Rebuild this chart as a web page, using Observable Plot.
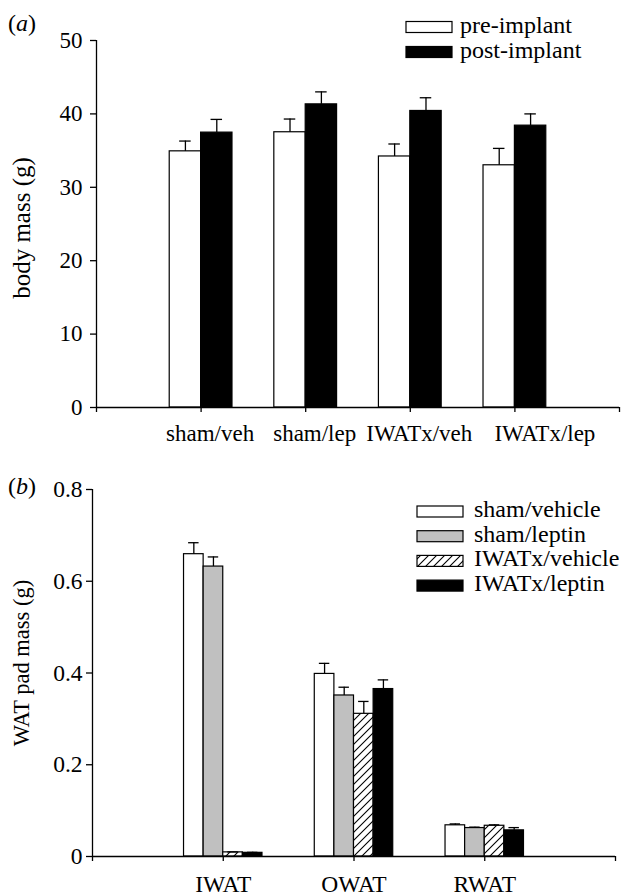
<!DOCTYPE html>
<html><head><meta charset="utf-8">
<script src="https://cdn.jsdelivr.net/npm/d3@7"></script>
<script src="https://cdn.jsdelivr.net/npm/@observablehq/plot@0.6"></script>
<style>
body{margin:0;background:#fff;font-family:"Liberation Serif","Times New Roman",serif;}
#wrap{position:relative;width:630px;height:896px;background:#fff;}
#wrap > svg{position:absolute;left:0;}
</style></head>
<body><div id="wrap"></div>
<script>
// ---- Panel (a): body mass ----
const groupsA = ["sham/veh", "sham/lep", "IWATx/veh", "IWATx/lep"];
const seriesA = ["pre-implant", "post-implant"];
const preMass = [34.9, 37.5, 34.2, 33.0];
const preErr = [1.4, 1.8, 1.7, 2.3];
const postMass = [37.45, 41.3, 40.4, 38.4];
const postErr = [1.8, 1.7, 1.8, 1.6];
const yTicksA = [0, 10, 20, 30, 40, 50];

// ---- Panel (b): WAT pad mass ----
const depots = ["IWAT", "OWAT", "RWAT"];
const seriesB = ["sham/vehicle", "sham/leptin", "IWATx/vehicle", "IWATx/leptin"];
const shamVeh = [0.659, 0.398, 0.068];
const shamVehErr = [0.025, 0.023, 0.003];
const shamLep = [0.632, 0.351, 0.062];
const shamLepErr = [0.021, 0.018, 0.002];
const iwatxVeh = [0.009, 0.311, 0.067];
const iwatxVehErr = [0.001, 0.027, 0.002];
const iwatxLep = [0.008, 0.365, 0.057];
const iwatxLepErr = [0.001, 0.020, 0.006];
const yTicksB = [0, 0.2, 0.4, 0.6, 0.8];

function rowsFrom(groups, vals, errs) {
  const rows = [];
  groups.forEach((g, gi) => vals.forEach((v, si) =>
    rows.push({group: g, gi, si, value: v[gi], err: errs[si][gi]})));
  return rows;
}

const FONT = '"Liberation Serif", "Times New Roman", serif';
const wrap = document.getElementById("wrap");

// overlay svg (pattern defs, panel letters, legends)
const overlay = d3.create("svg").attr("width", 630).attr("height", 896)
  .style("top", "0px").style("pointer-events", "none").style("z-index", 2)
  .attr("font-family", FONT).attr("font-size", 24);
const pat = overlay.append("defs").append("pattern").attr("id", "hatch")
  .attr("patternUnits", "userSpaceOnUse").attr("width", 8).attr("height", 8);
pat.append("rect").attr("width", 8).attr("height", 8).attr("fill", "white");
pat.append("path").attr("d", "M-2,2 L2,-2 M0,8 L8,0 M6,10 L10,6")
  .attr("stroke", "black").attr("stroke-width", 1.1);

// Panel a
const rowsA = rowsFrom(groupsA, [preMass, postMass], [preErr, postErr]);
const fillsA = ["white", "black"];
const wA = 0.3, capA = 0.055;
const xA1 = d => d.gi + 1 + (d.si - seriesA.length / 2) * wA;
const cA = d => xA1(d) + wA / 2;
const nA = groupsA.length;

const plotA = Plot.plot({
  width: 630, height: 450,
  marginLeft: 96, marginRight: 11, marginTop: 40, marginBottom: 43,
  style: {fontFamily: FONT, fontSize: "23px", color: "black", background: "transparent", overflow: "visible"},
  x: {type: "linear", domain: [0, nA + 1]},
  y: {domain: [0, 50]},
  marks: [
    Plot.rect(rowsA, {x1: xA1, x2: d => xA1(d) + wA, y1: () => 0, y2: "value",
      fill: d => fillsA[d.si], stroke: "black", strokeWidth: 1.2}),
    Plot.ruleX(rowsA, {x: cA, y1: "value", y2: d => d.value + d.err, stroke: "black", strokeWidth: 1.3}),
    Plot.ruleY(rowsA, {y: d => d.value + d.err, x1: d => cA(d) - capA, x2: d => cA(d) + capA, stroke: "black", strokeWidth: 1.3}),
    Plot.ruleX([0], {stroke: "black", strokeWidth: 1.3}),
    Plot.ruleY([0], {stroke: "black", strokeWidth: 1.3}),
    Plot.axisY({ticks: yTicksA, tickSize: 6, tickPadding: 8, label: null, strokeWidth: 1.3, fontSize: 23, tickFormat: d => String(d)}),
    Plot.axisX({ticks: d3.range(0, nA + 2), tickSize: 5, tickFormat: () => "", label: null, strokeWidth: 1.3}),
    Plot.axisX({ticks: d3.range(1, nA), tickSize: 0, tickPadding: 17,
      tickFormat: i => groupsA[i - 1], label: null, dx: 9, fontSize: 23}),
    Plot.axisX({ticks: [nA], tickSize: 0, tickPadding: 17,
      tickFormat: i => groupsA[i - 1], label: null, dx: 30, fontSize: 23}),
    Plot.text(["body mass (g)"], {frameAnchor: "left", textAnchor: "middle", rotate: -90, dx: -75, dy: 4, fontSize: 25})
  ]
});
plotA.style.top = "0px";
wrap.appendChild(plotA);

// Panel b
const rowsB = rowsFrom(depots, [shamVeh, shamLep, iwatxVeh, iwatxLep],
  [shamVehErr, shamLepErr, iwatxVehErr, iwatxLepErr]);
const fillsB = ["white", "#c0c0c0", "url(#hatch)", "black"];
const wB = 0.15, capB = 0.04;
const xB1 = d => d.gi + 1 + (d.si - seriesB.length / 2) * wB;
const cB = d => xB1(d) + wB / 2;

const plotB = Plot.plot({
  width: 630, height: 446,
  marginLeft: 92, marginRight: 15, marginTop: 39, marginBottom: 40,
  style: {fontFamily: FONT, fontSize: "23px", color: "black", background: "transparent", overflow: "visible"},
  x: {type: "linear", domain: [0, depots.length + 1]},
  y: {domain: [0, 0.8]},
  marks: [
    Plot.rect(rowsB, {x1: xB1, x2: d => xB1(d) + wB, y1: () => 0, y2: "value",
      fill: d => fillsB[d.si], stroke: "black", strokeWidth: 1.2}),
    Plot.ruleX(rowsB, {x: cB, y1: "value", y2: d => d.value + d.err, stroke: "black", strokeWidth: 1.3}),
    Plot.ruleY(rowsB, {y: d => d.value + d.err, x1: d => cB(d) - capB, x2: d => cB(d) + capB, stroke: "black", strokeWidth: 1.3}),
    Plot.ruleX([0], {stroke: "black", strokeWidth: 1.3}),
    Plot.ruleY([0], {stroke: "black", strokeWidth: 1.3}),
    Plot.axisY({ticks: yTicksB, tickSize: 6, tickPadding: 4, label: null, strokeWidth: 1.3, fontSize: 23.5, tickFormat: d => String(d)}),
    Plot.axisX({ticks: d3.range(0, depots.length + 2), tickSize: 5, tickFormat: () => "", label: null, strokeWidth: 1.3}),
    Plot.axisX({ticks: d3.range(1, depots.length + 1), tickSize: 0, tickPadding: 18.5,
      tickFormat: i => depots[i - 1], label: null, fontSize: 23.5}),
    Plot.text(["WAT pad mass (g)"], {frameAnchor: "left", textAnchor: "middle", rotate: -90, dx: -71, dy: -10, fontSize: 22.5})
  ]
});
plotB.style.top = "450px";
wrap.appendChild(plotB);

// Overlay: panel letters and legends
function panelLetter(letter, x, y) {
  const t = overlay.append("text").attr("x", x).attr("y", y);
  t.append("tspan").text("(");
  t.append("tspan").attr("font-style", "italic").text(letter);
  t.append("tspan").text(")");
}
panelLetter("a", 8, 31);
panelLetter("b", 8, 494);

function legend(labels, fills, x, y0, step, tx) {
  labels.forEach((lab, i) => {
    const y = y0 + i * step;
    overlay.append("rect").attr("x", x).attr("y", y - 11).attr("width", 46).attr("height", 11)
      .attr("fill", fills[i]).attr("stroke", "black").attr("stroke-width", 1.2);
    overlay.append("text").attr("x", tx).attr("y", y).text(lab);
  });
}
legend(seriesA, fillsA, 406, 32.5, 25, 460);
legend(seriesB, fillsB, 417, 517, 24.7, 474);

wrap.appendChild(overlay.node());
</script>
</body></html>
